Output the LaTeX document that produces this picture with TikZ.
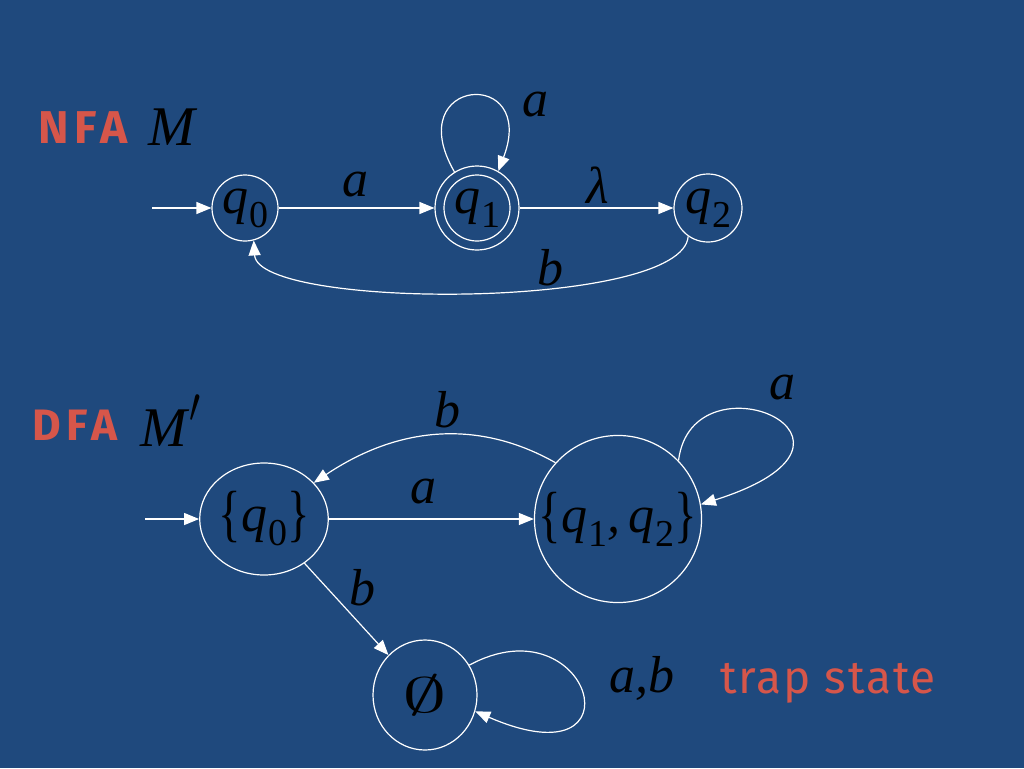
\documentclass[tikz,border=0pt]{standalone}
\usepackage{fontspec}
\usepackage{graphicx}
\setmainfont{Liberation Serif}
\newfontfamily\tms{Liberation Serif}
\newfontfamily\lab{Fira Sans}
\usetikzlibrary{arrows.meta,shapes.geometric}
\definecolor{bg}{RGB}{31,73,125}
\definecolor{redt}{RGB}{214,86,74}
\newcommand\qs[1]{\textit{q}\kern1pt\raisebox{-14pt}{\fontsize{38}{38}\selectfont #1}}
\newcommand\lbr{\raisebox{-3pt}{\scalebox{0.9}[1.2]{\{}}}
\newcommand\rbr{\raisebox{-3pt}{\scalebox{0.9}[1.2]{\}}}}
\begin{document}
\begin{tikzpicture}[x=1pt,y=-1pt,
 st/.style={draw=white,line width=1.2pt,circle,inner sep=0pt,text=black,font=\fontsize{52}{52}\selectfont\tms},
 est/.style={draw=white,line width=1.2pt,ellipse,inner sep=0pt,text=black,font=\fontsize{52}{52}\selectfont\tms},
 edge/.style={draw=white,line width=1.2pt,-{Triangle[length=15pt,width=12pt]}},
 lbl/.style={font=\fontsize{52}{52}\selectfont\tms\itshape,text=black,inner sep=0pt},
 ttl/.style={font=\fontsize{46}{46}\selectfont\lab\bfseries\addfontfeatures{LetterSpace=12},text=redt,inner sep=0pt}]
\fill[bg] (0,0) rectangle (1024,768);
\useasboundingbox (0,0) rectangle (1024,768);

% NFA
\node[ttl] (nfa) at (83,128) {NFA};
\node[lbl,font=\fontsize{56}{56}\selectfont\tms\itshape] (m) at (172,127) {M};
\node[st,minimum size=66pt] (q0) at (245,208) {\qs{0}};
\node[st,minimum size=84pt] (q1) at (477,208) {};
\node[st,minimum size=66pt] (q1i) at (477,208) {\qs{1}};
\node[st,minimum size=68pt] (q2) at (708,208) {\qs{2}};
\coordinate (s0) at (152,208);
\draw[edge] (s0) -- (q0);
\draw[edge] (q0) -- (q1);
\draw[edge] (q1) -- (q2);
\draw[edge] (q1.122) .. controls +(-55,-95) and +(40,-105) .. (q1.60);
\draw[edge] (q2.235) .. controls (683,310) and (258,310) .. (q0.285);
\node[lbl] (la1) at (355,185) {a};
\node[lbl] (ll) at (598,185) {λ};
\node[lbl] (la2) at (535,105) {a};
\node[lbl] (lb1) at (550,268) {b};

% DFA
\node[ttl,font=\fontsize{44}{44}\selectfont\lab\bfseries\addfontfeatures{LetterSpace=12}] (dfa) at (75,425) {DFA};
\node[lbl,font=\fontsize{56}{56}\selectfont\tms\itshape,anchor=base west] (mp) at (140,446) {M\kern3pt\raisebox{24pt}{\scalebox{1.6}[2]{$\prime$}}};
\node[est,minimum width=120pt,minimum height=112pt] (d0) at (264,519) {\lbr\qs{0}\rbr};
\node[st,minimum size=160pt] (big) at (618,519) {\lbr\qs{1}\textit{,}\,\qs{2}\rbr};
\node[est,minimum width=104pt,minimum height=110pt] (e) at (425,695) {\scalebox{3.6}[2]{$\emptyset$}};
\coordinate (sd) at (145,519);
\draw[edge] (sd) -- (d0);
\draw[edge] (d0) -- (big);
\draw[edge] (big.138) .. controls (480,420) and (400,425) .. (d0.36);
\draw[edge] (big.44) .. controls (692,350) and (905,440) .. (big.10);
\draw[edge] (d0) -- (e);
\draw[edge] (e.34) .. controls (590,600) and (645,785) .. (e.-18);
\node[lbl] (la3) at (423,492) {a};
\node[lbl] (lb2) at (447,410) {b};
\node[lbl] (la4) at (782,388) {a};
\node[lbl] (lb3) at (362,588) {b};
\node[lbl] (lab) at (642,678) {a,b};
\node[ttl,font=\fontsize{46}{46}\selectfont\lab\addfontfeatures{LetterSpace=4}] (trap) at (828,683) {trap state};
\end{tikzpicture}
\end{document}
